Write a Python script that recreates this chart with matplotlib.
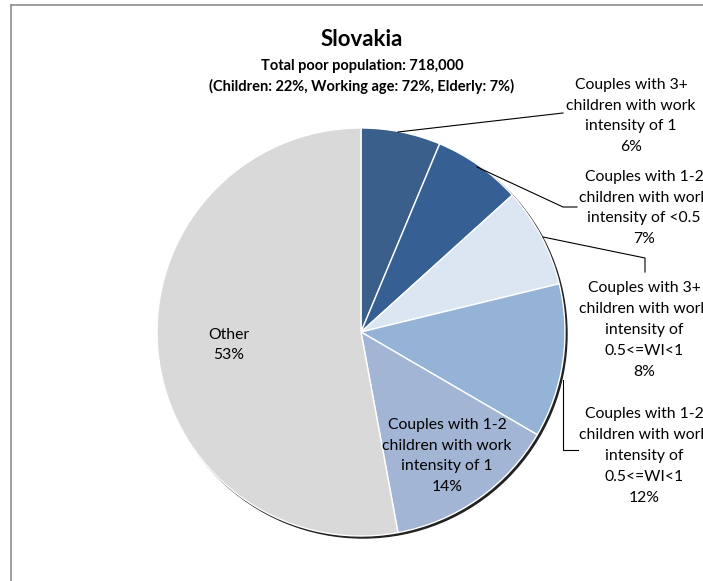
import matplotlib
matplotlib.use("Agg")
import matplotlib.pyplot as plt
from matplotlib.patches import Circle
from matplotlib.lines import Line2D

plt.rcParams['font.family'] = ['Lato', 'DejaVu Sans']

# ---- data (share of poor population, %) ----
groups = ['Couples with 3+\nchildren with work\nintensity of 1',
          'Couples with 1-2\nchildren with work\nintensity of <0.5',
          'Couples with 3+\nchildren with work\nintensity of\n0.5<=WI<1',
          'Couples with 1-2\nchildren with work\nintensity of\n0.5<=WI<1',
          'Couples with 1-2\nchildren with work\nintensity of 1',
          'Other']
shares = [6.3, 7.0, 7.9, 12.2, 13.7, 52.9]
colors = ['#3a5f8b', '#365f93', '#dce6f2', '#95b3d7', '#a3b5d5', '#d9d9d9']

title = 'Slovakia'
subtitle1 = 'Total poor population: 718,000'
subtitle2 = '(Children: 22%, Working age: 72%, Elderly: 7%)'

W, H = 703, 581
fig = plt.figure(figsize=(W / 100, H / 100), dpi=100)
ax = fig.add_axes([0, 0, 1, 1])

cx, cy, r = 361, H - 332, 204

# soft shadow behind the pie (lower right)
ax.add_patch(Circle((cx + 2, cy - 2), r, color='#222222', zorder=0))

wedges, _ = ax.pie(shares, colors=colors, startangle=90, counterclock=False,
                   radius=r, center=(cx, cy), frame=True,
                   wedgeprops=dict(edgecolor='white', linewidth=1.0))
for w in wedges:
    w.set_zorder(1)
ax.set_xlim(0, W)
ax.set_ylim(0, H)
ax.axis('off')

labels = ['%s\n%d%%' % (g, round(s)) for g, s in zip(groups, shares)]

# titles
ax.text(362, H - 40, title, ha='center', va='center', fontsize=16, fontweight='bold')
ax.text(362, H - 66, subtitle1, ha='center', va='center', fontsize=10.5, fontweight='bold')
ax.text(362, H - 86, subtitle2, ha='center', va='center', fontsize=10.5, fontweight='bold')

lbl_kw = dict(ha='center', va='center', fontsize=11.3, linespacing=1.62, zorder=5)

# labels inside the pie
ax.text(229, H - 345, labels[5], **lbl_kw)
ax.text(447, H - 456, labels[4], **lbl_kw)

# labels outside with leader lines
ax.text(631, H - 116, labels[0], **lbl_kw)
ax.text(644, H - 208, labels[1], **lbl_kw)
ax.text(644, H - 330, labels[2], **lbl_kw)
ax.text(644, H - 456, labels[3], **lbl_kw)

leaders = [
    [(398, 132), (563, 113)],
    [(477, 167), (563, 207), (577, 207)],
    [(543, 237), (645, 258), (645, 272)],
    [(563, 380), (563, 450), (578, 450)],
]
for pts in leaders:
    xs = [p[0] for p in pts]
    ys = [H - p[1] for p in pts]
    ax.plot(xs, ys, color='black', linewidth=0.8, zorder=4)

# chart area border (left and top visible)
fig.add_artist(Line2D([11.5 / W, 11.5 / W], [0, 1 - 4.5 / H], transform=fig.transFigure,
                      color='#8c8c8c', linewidth=1.2))
fig.add_artist(Line2D([11.5 / W, 1], [1 - 4.5 / H, 1 - 4.5 / H], transform=fig.transFigure,
                      color='#8c8c8c', linewidth=1.2))

fig.savefig('out.png', dpi=100, facecolor='white')
